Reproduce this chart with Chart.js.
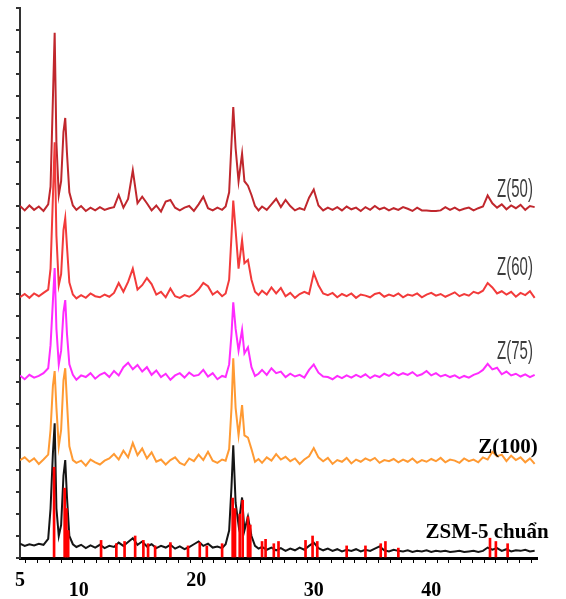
<!DOCTYPE html>
<html>
<head>
<meta charset="utf-8">
<script src="https://cdn.jsdelivr.net/npm/chart.js@4"></script>
<style>
html, body { margin: 0; padding: 0; background: #fff; }
</style>
</head>
<body>
<canvas id="xrdChart" width="566" height="599"></canvas>
<script>
// 2-theta grid (degrees), finer round the main peaks
var twoTheta = [
    5.0, 5.4, 5.8, 6.2, 6.6, 7.0, 7.4, 7.6, 7.8, 7.95,
    8.1, 8.3, 8.5, 8.7, 8.85, 9.0, 9.2, 9.5, 9.8, 10.2,
    10.6, 11.0, 11.4, 11.8, 12.2, 12.6, 13.0, 13.4, 13.8, 14.2,
    14.6, 15.0, 15.4, 15.8, 16.2, 16.6, 17.0, 17.4, 17.8, 18.2,
    18.6, 19.0, 19.4, 19.8, 20.2, 20.6, 21.0, 21.4, 21.8, 22.2,
    22.5, 22.8, 23.0, 23.15, 23.35, 23.6, 23.9, 24.1, 24.4, 24.7,
    25.0, 25.3, 25.6, 26.0, 26.4, 26.8, 27.2, 27.6, 28.0, 28.4,
    28.8, 29.2, 29.6, 30.0, 30.4, 30.8, 31.2, 31.6, 32.0, 32.4,
    32.8, 33.2, 33.6, 34.0, 34.4, 34.8, 35.2, 35.6, 36.0, 36.4,
    36.8, 37.2, 37.6, 38.0, 38.4, 38.8, 39.2, 39.6, 40.0, 40.4,
    40.8, 41.2, 41.6, 42.0, 42.4, 42.8, 43.2, 43.6, 44.0, 44.4,
    44.8, 45.2, 45.6, 46.0, 46.4, 46.8, 47.2, 47.6, 48.0, 48.4,
    48.8
];

// intensities above each trace's own baseline (arbitrary units)
var z50 = [
    0.5, -0.3, 0.6, -0.2, 0.4, -0.4, 0.8, 4, 20, 32,
    12, 2.5, 5, 14, 16.5, 10, 3, 0.6, -0.2, 0.5,
    -0.4, 0.2, -0.3, 0.3, -0.2, 0.1, 0.3, 2.5, 0.2, 1.8,
    7, 1.0, 2.2, 1.0, -0.3, 0.6, -0.5, 1.3, 1.6, 0.2,
    -0.3, 0.2, 0.5, -0.4, 0.8, 2.2, 0.1, -0.3, 0.2, -0.2,
    0.4, 3, 12, 18.5, 11, 5, 10, 5, 4.2, 2.5,
    0.5, -0.3, 0.4, -0.2, 0.8, 1.8, 0.3, 1.6, 0.5, -0.3,
    0.1, -0.2, 2.0, 3.5, 0.6, -0.3, 0.2, -0.2, 0.3, -0.3,
    0.4, -0.1, 0.2, -0.4, 0.3, -0.2, 0.5, -0.1, 0.2, -0.3,
    0.1, -0.2, 0.3, 0.0, -0.4, 0.2, -0.3, -0.3, -0.4, -0.4,
    -0.3, 0.3, -0.2, 0.2, -0.3, 0.0, 0.2, -0.3, 0.1, 0.4,
    2.4, 1.0, 0.2, 0.8, -0.1, 0.6, 0.1, 0.7, -0.2, 0.5,
    0.3
];
var z60 = [
    -0.2, 0.4, -0.3, 0.5, 0.0, 0.6, 1.2, 5, 18, 28,
    11, 2, 4, 12, 14.2, 9, 2.5, 0.3, -0.4, 0.2,
    -0.3, 0.5, 0.0, -0.2, 0.3, -0.1, 0.6, 2.4, 0.8, 2.6,
    5, 1.2, 2.0, 3.3, 2.2, 0.3, 0.8, -0.2, 1.4, 0.0,
    -0.3, 0.2, -0.1, 0.4, 1.2, 2.4, 1.8, 0.3, 0.9, 0.0,
    0.5, 3, 11, 17.4, 12, 5, 10.2, 6, 6.6, 3,
    0.8, 0.2, 1.0, 0.3, 1.6, 0.5, 1.5, 0.0, 0.6, -0.3,
    0.4, 0.8, 0.4, 4.2, 2.0, 0.5, 0.2, 0.6, -0.2, 0.4,
    0.0, 0.5, -0.3, 0.3, 0.1, -0.2, 0.4, 0.6, -0.1, 0.3,
    0.0, 0.5, -0.2, 0.3, 0.1, 0.5, -0.2, 0.3, 0.6, 0.1,
    0.4, -0.1, 0.3, 0.7, 0.0, 0.4, 0.1, 0.8, 0.5, 1.0,
    2.4, 1.6, 0.5, 0.9, 0.3, 0.8, -0.1, 0.6, 0.2, 0.9,
    -0.3
];
var z75 = [
    0.5, -0.2, 0.6, 0.1, 0.4, 0.9, 1.8, 6, 14, 20,
    9, 2.5, 5, 12, 14.2, 8, 2.5, 0.6, -0.3, 0.5,
    0.2, 0.9, -0.1, 0.6, 1.0, 0.2, 1.3, 0.5, 2.0, 2.8,
    1.6, 2.4, 1.2, 2.0, 0.6, 1.4, 0.2, 0.8, -0.3, 0.5,
    0.9, 0.1, 1.0, 0.4, 0.6, 1.5, 0.3, 0.9, -0.2, 0.4,
    0.2, 2.5, 8, 13.8, 9, 5, 8.8, 4.5, 5.6, 2.0,
    0.4, 0.8, 1.5, 0.6, 1.8, 0.9, 1.2, 0.2, 0.8, 0.3,
    0.6, 0.1, 1.5, 2.5, 1.0, 0.3, 0.2, -0.2, 0.4, 0.0,
    0.5, 0.1, 0.6, 0.2, 0.7, 0.0, 0.5, 0.2, 0.8, 0.4,
    1.0, 0.5, 0.9, 0.6, 1.1, 0.4, 0.7, 1.3, 0.5, 0.9,
    0.3, 0.6, 0.2, 0.5, 0.0, 0.4, 0.1, 0.6, 0.9, 1.5,
    2.6, 1.6, 1.9, 0.7, 1.2, 0.5, 0.8, 0.3, 0.7, 0.2,
    0.6
];
var z100 = [
    0.5, 1.0, 0.2, 0.8, -0.2, 0.6, 1.5, 6, 14, 16.7,
    10, 3, 6, 15, 17.2, 11, 3, 0.5, 0.0, 0.4,
    -0.5, 0.6, 0.1, -0.3, 0.4, 0.8, 1.6, 0.6, 2.2, 1.0,
    3.6, 1.4, 2.6, 0.8, 1.9, 0.2, 0.6, -0.3, 0.5, 1.0,
    0.0, -0.4, 0.8, 0.3, 1.5, 0.5, 2.0, 0.4, 0.0, 0.6,
    0.4, 2.5, 10, 19, 10, 5, 10.5, 5, 4.6, 2.5,
    0.2, 0.7, 0.0, 1.0, 0.4, 1.6, 0.6, 1.1, 0.3, 0.8,
    -0.2, 0.6, 1.2, 2.7, 1.0, 0.3, 0.9, -0.2, 0.5, 0.2,
    0.9, -0.1, 0.6, 0.2, 0.8, 0.4, 0.9, 0.0, 0.5, 0.3,
    0.7, 0.1, 0.6, 0.2, 0.8, 0.0, 0.5, 0.2, 0.7, 0.3,
    0.9, 0.1, 0.6, 0.4, 0.0, 0.8, 0.3, 0.6, 0.1, 1.0,
    0.6, 2.0, 1.2, 1.5, 0.3, 1.3, 0.5, 1.0, 0.1, 0.8,
    -0.2
];
var zsm5 = [
    1.6, 1.2, 1.5, 1.3, 1.6, 1.4, 2.5, 8, 18, 23.5,
    8, 3, 5, 14, 16.8, 10, 3, 1.5, 1.0, 1.4,
    0.8, 1.3, 0.9, 1.4, 0.8, 1.2, 1.0, 1.8, 1.2, 1.9,
    2.6, 1.4, 2.0, 1.1, 1.5, 0.8, 1.2, 0.9, 1.4, 0.7,
    1.1, 0.6, 1.0, 1.5, 2.0, 1.2, 1.6, 0.9, 1.1, 0.8,
    1.5, 4, 12, 19.5, 9, 5, 10, 4, 6.5, 3,
    1.2, 0.7, 1.0, 0.5, 0.9, 0.4, 0.8, 0.3, 0.7, 0.4,
    0.9, 0.5, 1.2, 1.8, 0.8, 0.4, 0.7, 0.3, 0.6, 0.2,
    0.5, 0.3, 0.6, 0.2, 0.5, 0.3, 0.7, 1.1, 0.4, 0.2,
    0.5, 0.3, 0.2, 0.4, 0.1, 0.3, 0.2, 0.4, 0.1, 0.3,
    0.2, 0.3, 0.1, 0.2, 0.3, 0.1, 0.2, 0.3, 0.1, 0.3,
    0.9, 0.5, 0.8, 0.3, 0.6, 0.2, 0.4, 0.3, 0.5, 0.2,
    0.3
];

// standard ZSM-5 reference lines
var stickAngle = [7.9, 8.8, 8.95, 9.1, 11.9, 13.2, 13.9, 14.8, 15.5, 15.9,
    16.5, 17.8, 19.3, 20.3, 20.9, 22.2, 23.1, 23.3, 23.7, 23.95,
    24.4, 24.6, 25.6, 25.9, 26.6, 27.0, 29.3, 29.9, 30.3, 32.8,
    34.4, 35.7, 36.1, 37.2, 45.0, 45.5, 46.5];
var stickHeight = [16.5, 12.7, 9, 5, 3.2, 2.6, 3, 4, 3.2, 2.6,
    2.2, 2.8, 2.2, 2.8, 2.2, 2.6, 10.9, 9, 8, 10.5,
    7.5, 6, 3, 3.4, 2.6, 3, 3.2, 4, 3, 2.2,
    2.2, 2.6, 3, 1.8, 3.6, 3, 2.6];

// vertical offsets of the stacked patterns
var seriesNames = ['Z(50)', 'Z(60)', 'Z(75)', 'Z(100)', 'ZSM-5 chuẩn'];
var seriesOffsets = [63.5, 47.6, 32.7, 17.3, 1.0];
var seriesColors = ['#c0272d', '#f23a3a', '#ff2bff', '#ff9a33', '#151515'];

var xLabelsHigh = [5, 20];
var xLabelsLow = [10, 30, 40];

function toPoints(values, offset) {
    var pts = [];
    for (var i = 0; i < twoTheta.length; i++) {
        pts.push({ x: twoTheta[i], y: values[i] + offset });
    }
    return pts;
}

function lineSet(label, values, k) {
    return {
        type: 'line',
        label: label,
        data: toPoints(values, seriesOffsets[k]),
        borderColor: seriesColors[k],
        borderWidth: 2,
        pointRadius: 0,
        tension: 0,
        fill: false
    };
}

var labelPlugin = {
    id: 'traceLabels',
    afterDatasetsDraw: function(chart) {
        var ctx = chart.ctx;
        var narrow = [['Z(50)', 515, 190], ['Z(60)', 515, 268], ['Z(75)', 515, 352]];
        ctx.save();
        ctx.fillStyle = '#3c3c3c';
        ctx.textAlign = 'center';
        ctx.textBaseline = 'middle';
        ctx.font = '25px "Liberation Sans"';
        for (var i = 0; i < narrow.length; i++) {
            ctx.save();
            ctx.translate(narrow[i][1], narrow[i][2]);
            ctx.scale(0.6, 1);
            ctx.fillText(narrow[i][0], 0, 0);
            ctx.restore();
        }
        ctx.fillStyle = '#000';
        ctx.font = 'bold 21px "Liberation Serif"';
        ctx.fillText(seriesNames[3], 508, 448);
        ctx.fillText(seriesNames[4], 487, 533);
        ctx.restore();
    }
};

var ctx = document.getElementById('xrdChart').getContext('2d');
var chart = new Chart(ctx, {
    type: 'line',
    data: {
        datasets: [
            {
                type: 'bar',
                label: 'ref',
                data: stickAngle.map(function(a, i) { return { x: a, y: stickHeight[i] }; }),
                backgroundColor: '#ff0000',
                barThickness: 2,
                grouped: false
            },
            lineSet(seriesNames[4], zsm5, 4),
            lineSet(seriesNames[0], z50, 0),
            lineSet(seriesNames[1], z60, 1),
            lineSet(seriesNames[2], z75, 2),
            lineSet(seriesNames[3], z100, 3)
        ]
    },
    options: {
        responsive: false,
        animation: false,
        devicePixelRatio: 1,
        layout: { padding: { left: 16, right: 29, top: 8, bottom: 0 } },
        plugins: {
            legend: { display: false },
            tooltip: { enabled: false }
        },
        scales: {
            x: {
                type: 'linear',
                min: 5,
                max: 49,
                offset: false,
                afterFit: function(scale) { scale.height = 41; },
                border: { color: '#000', width: 3 },
                grid: { drawOnChartArea: false, tickLength: 5, color: '#000', lineWidth: 1 },
                ticks: {
                    stepSize: 1,
                    autoSkip: false,
                    maxRotation: 0,
                    padding: 13,
                    color: '#000',
                    font: { family: 'Liberation Serif', size: 20, weight: 'bold', lineHeight: '10px' },
                    callback: function(value) {
                        if (xLabelsHigh.indexOf(value) >= 0) return [String(value), ''];
                        if (xLabelsLow.indexOf(value) >= 0) return ['', String(value)];
                        return '';
                    }
                }
            },
            y: {
                type: 'linear',
                min: 0,
                max: 100,
                border: { color: '#333', width: 2 },
                grid: { drawOnChartArea: false, tickLength: 4, color: '#333', lineWidth: 2 },
                ticks: { display: false, stepSize: 4 }
            }
        }
    },
    plugins: [labelPlugin]
});
</script>
</body>
</html>
